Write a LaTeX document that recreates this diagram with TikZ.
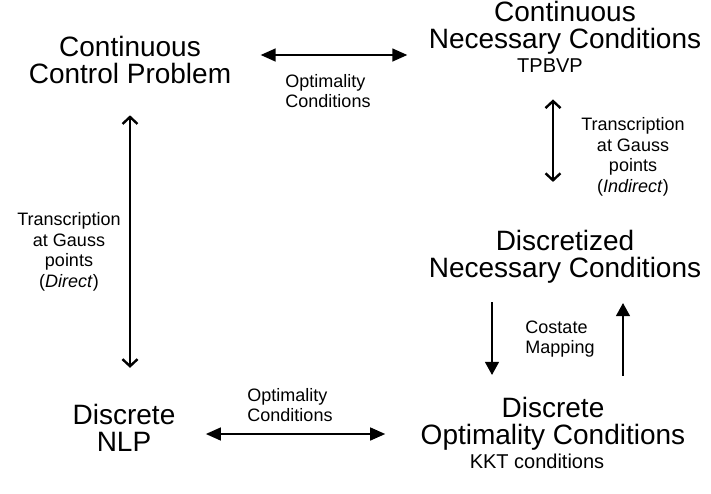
\documentclass[tikz,border=0pt]{standalone}
\usepackage{fontspec}
\setmainfont{Liberation Sans}
\usetikzlibrary{arrows.meta}

\begin{document}
\begin{tikzpicture}[x=1pt, y=-1pt,
  big/.style={align=center, font=\fontsize{28}{27}\selectfont},
  mid/.style={font=\fontsize{20}{22}\selectfont},
  small/.style={font=\fontsize{18}{20.5}\selectfont},
  both/.style={{Triangle[length=15pt,width=13pt]}-{Triangle[length=15pt,width=13pt]}, line width=1.5pt},
  trans/.style={{Straight Barb[length=7pt,width=15pt,line width=2.4pt]}-{Straight Barb[length=7pt,width=15pt,line width=2.4pt]}, line width=1.1pt},
  costate/.style={-{Triangle[length=13pt,width=14pt]}, line width=1.1pt}]
	\useasboundingbox (0,0) rectangle (711,493);
	\node[big] (ccp) at (130,60) {Continuous\\Control Problem};
	\node[big] (cnc) at (565,28) {Continuous\\Necessary Conditions};
	\node[mid] (tpbvp) at (550,66) {TPBVP};
	\node[big] (dnc) at (565,257) {Discretized\\Necessary Conditions};
	\node[big] (doc) at (553,424) {Discrete\\Optimality Conditions};
	\node[mid] (kkt) at (537,461) {KKT conditions};
	\node[big] (nlp) at (124,428) {Discrete\\NLP};
	\node[small, align=left] (opttop) at (328,91) {Optimality\\Conditions};
	\node[small, align=left] (optbot) at (290,405) {Optimality\\Conditions};
	\node[small, align=center] (indirect) at (633,157) {Transcription\\at Gauss\\points\\(\textit{Indirect})};
	\node[small, align=center] (direct) at (69,252) {Transcription\\at Gauss\\points\\(\textit{Direct})};
	\node[small, align=left] (map) at (560,339) {Costate\\Mapping};
	\draw[both] ([xshift=26pt,yshift=5pt]ccp.east) -- ([xshift=-18pt,yshift=-27pt]cnc.west);
	\draw[both] ([xshift=27pt,yshift=-6pt]nlp.east) -- ([xshift=-32pt,yshift=-10pt]doc.west);
	\draw[trans] ([yshift=-28pt]ccp.south) -- ([xshift=6pt,yshift=33pt]nlp.north);
	\draw[trans] ([xshift=3pt,yshift=-23pt]tpbvp.south) -- ([xshift=-12pt,yshift=45pt]dnc.north);
	\draw[costate] ([xshift=-73pt,yshift=-15pt]dnc.south) -- ([xshift=-61pt,yshift=19pt]doc.north);
	\draw[costate] ([xshift=70pt,yshift=18pt]doc.north) -- ([xshift=58pt,yshift=-16pt]dnc.south);
\end{tikzpicture}
\end{document}
